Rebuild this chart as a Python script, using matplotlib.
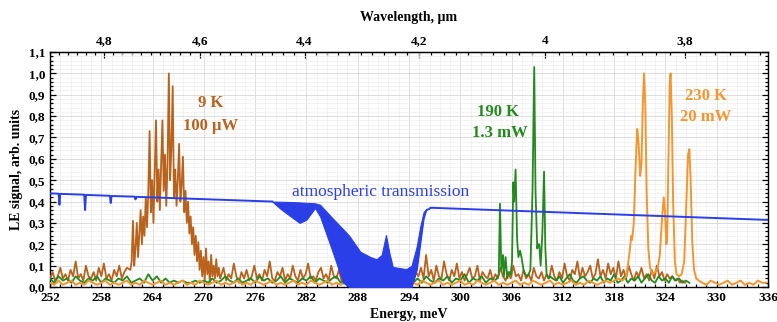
import numpy as np
import matplotlib
matplotlib.use('Agg')
import matplotlib.pyplot as plt
from matplotlib.ticker import MultipleLocator, FuncFormatter, FixedLocator

plt.rcParams['font.family'] = ['Liberation Serif', 'DejaVu Serif']

# ---- 9 K, 100 uW (brown) ----
k9_left_start, k9_left_step = 252.0, 0.3
k9_left = [0.04, 0.07, 0.03, 0.05, 0.09, 0.04, 0.06, 0.03, 0.08, 0.05, 0.12, 0.04,
           0.06, 0.03, 0.10, 0.05, 0.04, 0.07, 0.03, 0.09, 0.05, 0.11, 0.04, 0.06,
           0.03, 0.08, 0.05, 0.10, 0.04, 0.07, 0.09]
k9_band_start, k9_band_step = 261.4, 0.15
k9_band = [0.08, 0.12, 0.31, 0.10, 0.18, 0.30, 0.14, 0.25, 0.36, 0.20, 0.33, 0.24,
           0.42, 0.28, 0.45, 0.73, 0.35, 0.50, 0.30, 0.55, 0.78, 0.40, 0.55, 0.36,
           0.58, 0.78, 0.45, 0.62, 0.38, 0.58, 1.00, 0.50, 0.65, 0.94, 0.42, 0.55,
           0.38, 0.50, 0.67, 0.40, 0.48, 0.61, 0.35, 0.45, 0.30, 0.40, 0.25, 0.33,
           0.20, 0.28, 0.15, 0.24, 0.12, 0.21, 0.08, 0.17, 0.05, 0.14, 0.03, 0.18,
           0.06, 0.12, 0.02, 0.15, 0.05, 0.10, 0.04, 0.13, 0.05, 0.09, 0.04]
k9_right_start, k9_right_step = 272.0, 0.3
k9_right = [0.05, 0.09, 0.03, 0.06, 0.04, 0.11, 0.05, 0.02, 0.07, 0.04, 0.08, 0.03,
            0.05, 0.10, 0.04, 0.06, 0.03, 0.08, 0.05, 0.12, 0.04, 0.03, 0.07, 0.05,
            0.09, 0.03, 0.06, 0.04, 0.10, 0.05, 0.03, 0.08, 0.04, 0.06, 0.11, 0.04,
            0.05, 0.03, 0.07, 0.09, 0.04, 0.06, 0.03, 0.10, 0.05, 0.04, 0.08, 0.03,
            0.05, 0.04, 0.06, 0.03, 0.05, 0.04, 0.06, 0.03, 0.05, 0.04, 0.05, 0.03,
            0.05, 0.04, 0.06, 0.03, 0.05, 0.04, 0.06, 0.03, 0.05, 0.04, 0.05, 0.03,
            0.05, 0.04, 0.06, 0.03, 0.07, 0.05, 0.09, 0.04, 0.15, 0.05, 0.08, 0.03,
            0.10, 0.05, 0.04, 0.12, 0.06, 0.03, 0.08, 0.05, 0.11, 0.04, 0.07, 0.03,
            0.06, 0.09, 0.04, 0.05, 0.10, 0.03, 0.07, 0.05, 0.04, 0.08, 0.03, 0.06,
            0.04, 0.09, 0.05, 0.03, 0.07, 0.04, 0.10, 0.05, 0.06, 0.03, 0.08, 0.04,
            0.06, 0.03, 0.09, 0.05, 0.04, 0.07, 0.03, 0.06, 0.04, 0.10, 0.05, 0.03,
            0.07, 0.04, 0.11, 0.05, 0.03, 0.08, 0.06, 0.12, 0.04, 0.09, 0.05, 0.07,
            0.10, 0.04, 0.06, 0.13, 0.05, 0.08, 0.04, 0.11, 0.06, 0.09, 0.04, 0.12,
            0.05, 0.08, 0.04, 0.10, 0.06, 0.03, 0.07, 0.05, 0.09, 0.04, 0.06, 0.03,
            0.08, 0.04, 0.10, 0.05, 0.07, 0.03, 0.06, 0.04, 0.05, 0.03, 0.04, 0.02,
            0.03, 0.02]

# ---- 190 K, 1.3 mW (green) ----
k190_left_start, k190_left_step = 252.0, 0.5
k190_left = [0.04, 0.02, 0.05, 0.03, 0.04, 0.02, 0.05, 0.03, 0.02, 0.04, 0.03, 0.05,
             0.02, 0.04, 0.03, 0.02, 0.04, 0.03, 0.05, 0.02, 0.03, 0.04, 0.02, 0.06,
             0.03, 0.05, 0.02, 0.04, 0.02, 0.03, 0.02, 0.03, 0.02, 0.02, 0.03, 0.02,
             0.03, 0.02, 0.04, 0.02, 0.03, 0.05, 0.03, 0.02, 0.04, 0.02, 0.03, 0.04,
             0.02, 0.05, 0.03, 0.04, 0.02, 0.03, 0.05, 0.02, 0.04, 0.03, 0.02, 0.04,
             0.03, 0.05, 0.02, 0.04, 0.03, 0.02, 0.04, 0.05, 0.02, 0.03, 0.04, 0.02,
             0.03, 0.02, 0.02, 0.03, 0.02, 0.02, 0.03, 0.02, 0.02, 0.03, 0.02, 0.02,
             0.03, 0.02, 0.04, 0.02, 0.05, 0.03, 0.02, 0.04, 0.03, 0.05, 0.02, 0.04,
             0.03, 0.06, 0.02, 0.04, 0.03, 0.05, 0.02, 0.04, 0.03]
k190_peak_e = [304.3, 304.5, 304.64, 304.8, 305.0, 305.1, 305.3, 305.5, 305.7, 305.9,
               306.05, 306.2, 306.3, 306.47, 306.65, 306.8, 307.0, 307.2, 307.4, 307.6,
               307.8, 308.0, 308.2, 308.45, 308.65, 308.8, 309.0, 309.1, 309.24, 309.4,
               309.6, 309.8, 309.95, 310.1, 310.3, 310.5]
k190_peak = [0.04, 0.06, 0.39, 0.08, 0.15, 0.05, 0.14, 0.04, 0.07, 0.06,
             0.12, 0.49, 0.40, 0.55, 0.22, 0.14, 0.17, 0.13, 0.08, 0.06,
             0.05, 0.06, 0.08, 0.45, 1.03, 0.45, 0.18, 0.20, 0.20, 0.10,
             0.25, 0.54, 0.18, 0.06, 0.04, 0.05]
k190_right_start, k190_right_step = 310.8, 0.4
k190_right = [0.04, 0.03, 0.05, 0.02, 0.04, 0.06, 0.03, 0.02, 0.04, 0.05, 0.03, 0.02,
              0.04, 0.03, 0.05, 0.02, 0.04, 0.03, 0.06, 0.02, 0.03, 0.05, 0.02, 0.04,
              0.03, 0.05, 0.02, 0.04, 0.06, 0.03, 0.02, 0.05, 0.03, 0.04, 0.02, 0.05,
              0.03, 0.04, 0.02, 0.03, 0.02]

# ---- 230 K, 20 mW (orange) ----
k230_left_start, k230_left_step = 252.0, 0.5
k230_left = [0.02, 0.01, 0.03, 0.01, 0.02, 0.03, 0.01, 0.02, 0.01, 0.03, 0.02, 0.01,
             0.02, 0.03, 0.01, 0.02, 0.01, 0.02, 0.03, 0.01, 0.02, 0.01, 0.03, 0.02,
             0.01, 0.02, 0.03, 0.01, 0.02, 0.01, 0.02, 0.03, 0.01, 0.02, 0.01, 0.03,
             0.02, 0.01, 0.02, 0.03, 0.01, 0.02, 0.01, 0.02, 0.03, 0.01, 0.02, 0.01,
             0.03, 0.02, 0.01, 0.02, 0.03, 0.01, 0.02, 0.01, 0.02, 0.03, 0.01, 0.02,
             0.01, 0.03, 0.02, 0.01, 0.02, 0.03, 0.01, 0.02, 0.01, 0.02, 0.03, 0.01,
             0.02, 0.01, 0.03, 0.02, 0.01, 0.02, 0.03, 0.01, 0.02, 0.01, 0.02, 0.03,
             0.01, 0.02, 0.01, 0.03, 0.02, 0.01, 0.02, 0.03, 0.01, 0.02, 0.01, 0.02,
             0.03, 0.01, 0.02, 0.01, 0.03, 0.02, 0.01, 0.02, 0.03, 0.01, 0.02, 0.01,
             0.02, 0.03, 0.01, 0.02, 0.01, 0.03, 0.02, 0.01, 0.02, 0.03, 0.01, 0.02,
             0.01, 0.02, 0.03, 0.01, 0.02, 0.01, 0.03, 0.02, 0.01, 0.02, 0.03, 0.02,
             0.03, 0.04]
k230_peak_e = [319.0, 319.4, 319.6, 319.8, 320.0, 320.1, 320.3, 320.5, 320.7, 320.85,
               321.05, 321.2, 321.35, 321.5, 321.65, 321.8, 322.0, 322.2, 322.5, 322.8,
               323.1, 323.35, 323.6, 323.8, 323.95, 324.1, 324.2, 324.35, 324.5, 324.6,
               324.75, 324.9, 325.1, 325.3, 325.6, 325.9, 326.2, 326.45, 326.65, 326.8,
               326.95, 327.15, 327.35, 327.6, 327.9]
k230_peak = [0.03, 0.05, 0.10, 0.16, 0.24, 0.22, 0.30, 0.55, 0.74, 0.68,
             0.52, 0.58, 0.85, 1.00, 0.85, 0.45, 0.18, 0.09, 0.06, 0.07,
             0.09, 0.15, 0.32, 0.42, 0.35, 0.20, 0.22, 0.60, 0.95, 1.00,
             0.80, 0.40, 0.12, 0.06, 0.05, 0.06, 0.12, 0.40, 0.62, 0.645,
             0.50, 0.20, 0.08, 0.04, 0.03]
k230_right_start, k230_right_step = 328.3, 0.5
k230_right = [0.02, 0.01, 0.03, 0.02, 0.01, 0.02, 0.03, 0.01, 0.02, 0.03, 0.01,
              0.02, 0.01, 0.03, 0.02, 0.02]

# ---- atmospheric transmission (blue) ----
atm_left_e = [252.0, 253.0, 253.1, 253.2, 256.0, 256.1, 256.2, 259.0, 259.1, 259.2,
              261.9, 262.0, 262.1, 278.0]
atm_left_t = [0.438, 0.437, 0.385, 0.436, 0.432, 0.360, 0.431, 0.427, 0.393, 0.426,
              0.423, 0.410, 0.422, 0.400]
atm_band_e = [278.0, 279.0, 280.0, 281.2, 282.0, 283.0, 283.6, 284.4, 285.1, 286.3,
              287.0, 288.3, 289.5, 290.2, 290.8, 291.3, 291.7, 292.1, 293.0, 293.7,
              294.3, 294.9, 295.3, 295.7, 296.0, 296.5]
atm_band_hi = [0.400, 0.399, 0.398, 0.396, 0.394, 0.392, 0.385, 0.350, 0.320, 0.270,
               0.240, 0.165, 0.140, 0.130, 0.150, 0.243, 0.160, 0.094, 0.088, 0.084,
               0.100, 0.190, 0.280, 0.350, 0.365, 0.371]
atm_band_lo = [0.400, 0.365, 0.335, 0.300, 0.315, 0.370, 0.330, 0.240, 0.160, 0.020,
               0.0, 0.0, 0.0, 0.0, 0.0, 0.0, 0.0, 0.0, 0.0, 0.0,
               0.0, 0.080, 0.200, 0.320, 0.360, 0.371]
atm_right_e = [296.5, 336.0]
atm_right_t = [0.371, 0.314]

wl_ticks = [4.8, 4.6, 4.4, 4.2, 4.0, 3.8]

c_brown = '#b9621c'
c_green = '#24891e'
c_orange = '#f4962f'
c_blue = '#2a3fe8'


def grid_x(start, step, vals):
    return start + step * np.arange(len(vals))


fig = plt.figure(figsize=(7.77, 3.22), dpi=100)
ax = fig.add_axes([0.0644, 0.1087, 0.9240, 0.7298])

e9 = np.concatenate([grid_x(k9_left_start, k9_left_step, k9_left),
                     grid_x(k9_band_start, k9_band_step, k9_band),
                     grid_x(k9_right_start, k9_right_step, k9_right)])
y9 = np.concatenate([k9_left, k9_band, k9_right])
ax.plot(e9, y9, color=c_brown, lw=1.3, zorder=3)

e190 = np.concatenate([grid_x(k190_left_start, k190_left_step, k190_left),
                       k190_peak_e,
                       grid_x(k190_right_start, k190_right_step, k190_right)])
y190 = np.concatenate([k190_left, k190_peak, k190_right])
ax.plot(e190, y190, color=c_green, lw=1.3, zorder=4)

e230 = np.concatenate([grid_x(k230_left_start, k230_left_step, k230_left),
                       k230_peak_e,
                       grid_x(k230_right_start, k230_right_step, k230_right)])
y230 = np.concatenate([k230_left, k230_peak, k230_right])
ax.plot(e230, y230, color=c_orange, lw=1.4, zorder=5)

# atmospheric transmission
ax.plot(atm_left_e, atm_left_t, color=c_blue, lw=1.4, zorder=6)
ax.fill_between(atm_band_e, atm_band_lo, atm_band_hi, color=c_blue, lw=0.8,
                edgecolor=c_blue, zorder=6)
ax.plot(atm_right_e, atm_right_t, color=c_blue, lw=1.4, zorder=6)

ax.set_xlim(252, 336)
ax.set_ylim(0, 1.1)

ax.xaxis.set_major_locator(MultipleLocator(6))
ax.xaxis.set_minor_locator(MultipleLocator(1.2))
ax.yaxis.set_major_locator(MultipleLocator(0.1))
ax.yaxis.set_minor_locator(MultipleLocator(0.02))
ax.yaxis.set_major_formatter(FuncFormatter(lambda v, p: f'{v:.1f}'.replace('.', ',')))
ax.xaxis.set_major_formatter(FuncFormatter(lambda v, p: f'{v:.0f}'))

ax.tick_params(which='both', direction='in', top=False, right=True,
               labelsize=9.5, width=0.9)
ax.tick_params(which='major', length=4)
ax.tick_params(which='minor', length=2)
for lab in ax.get_xticklabels() + ax.get_yticklabels():
    lab.set_fontweight('bold')

ax.grid(which='major', color='#d8d8d8', lw=0.6)
ax.grid(which='minor', color='#efefef', lw=0.5)
ax.set_axisbelow(True)
for sp in ax.spines.values():
    sp.set_linewidth(1.0)

ax.set_xlabel('Energy, meV', fontweight='bold', fontsize=10, labelpad=3)
ax.set_ylabel('LE signal, arb. units', fontweight='bold', fontsize=10, labelpad=4)

secax = ax.secondary_xaxis('top', functions=(lambda e: 1239.84 / np.asarray(e, float),
                                             lambda l: 1239.84 / np.asarray(l, float)))
secax.xaxis.set_major_locator(FixedLocator(wl_ticks))
secax.xaxis.set_minor_locator(MultipleLocator(0.02))
secax.xaxis.set_major_formatter(FuncFormatter(lambda v, p: ('%g' % round(v, 1)).replace('.', ',')))
secax.tick_params(which='both', direction='in', labelsize=9.5, width=0.9)
secax.tick_params(which='major', length=4)
secax.tick_params(which='minor', length=2)
for lab in secax.get_xticklabels():
    lab.set_fontweight('bold')
secax.set_xlabel('Wavelength, µm', fontweight='bold', fontsize=10, labelpad=10)

ax.text(270.8, 0.86, '9 K', color=c_brown, fontsize=12, fontweight='bold',
        ha='center', va='center', zorder=8)
ax.text(270.8, 0.755, '100 µW', color=c_brown, fontsize=12, fontweight='bold',
        ha='center', va='center', zorder=8)
ax.text(304.4, 0.82, '190 K', color=c_green, fontsize=12, fontweight='bold',
        ha='center', va='center', zorder=8)
ax.text(304.6, 0.72, '1.3 mW', color=c_green, fontsize=12, fontweight='bold',
        ha='center', va='center', zorder=8)
ax.text(328.7, 0.895, '230 K', color=c_orange, fontsize=12, fontweight='bold',
        ha='center', va='center', zorder=8)
ax.text(328.7, 0.797, '20 mW', color=c_orange, fontsize=12, fontweight='bold',
        ha='center', va='center', zorder=8)
ax.text(280.3, 0.445, 'atmospheric transmission', color=c_blue, fontsize=12.5,
        ha='left', va='center', zorder=8)

fig.savefig('out.png', dpi=100)
